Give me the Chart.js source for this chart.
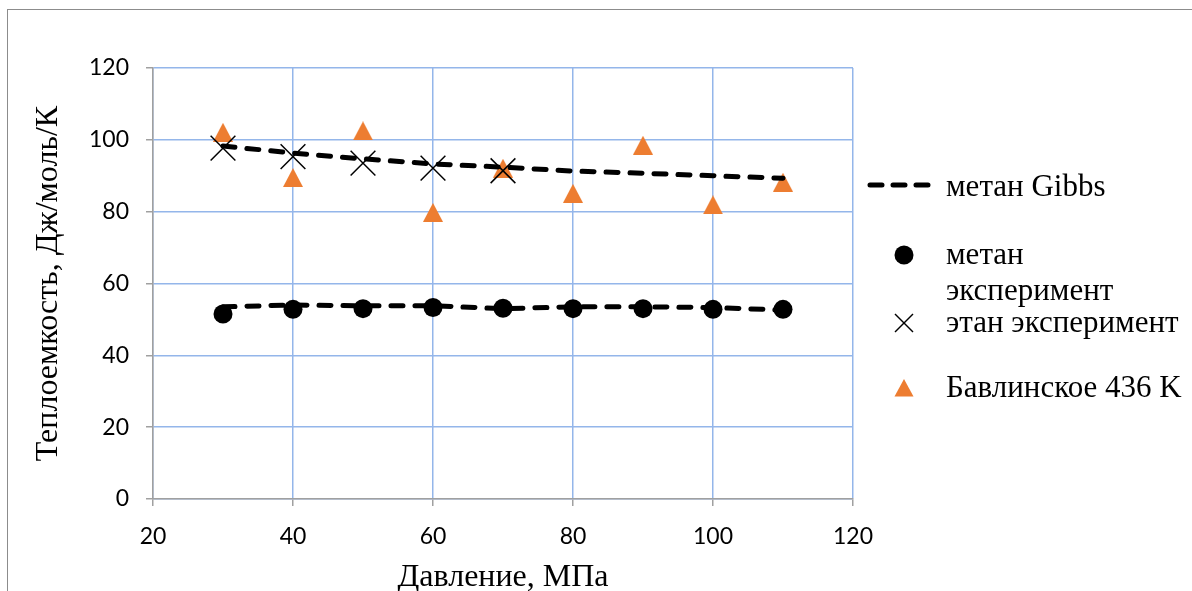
<!DOCTYPE html>
<html lang="ru">
<head>
<meta charset="utf-8">
<title>Теплоемкость</title>
<script src="https://cdn.jsdelivr.net/npm/chart.js@4.4.0/dist/chart.umd.min.js"></script>
<style>
  html, body { margin: 0; padding: 0; background: #fff; }
  #wrap { position: relative; width: 1192px; height: 591px; overflow: hidden; }
  #frame { position: absolute; left: 7px; top: 9px; width: 1300px; height: 700px;
    border-top: 1.5px solid #8c8c8c; border-left: 1.5px solid #8c8c8c; }
  #chart { position: absolute; left: 0; top: 0; }
  .lg { position: absolute; font-family: "Liberation Serif", "Times New Roman", serif;
    font-size: 31px; line-height: 36px; color: #000; white-space: nowrap; }
  .mk { position: absolute; overflow: visible; }
</style>
</head>
<body>
<div id="wrap">
  <div id="frame"></div>
  <canvas id="chart" width="1192" height="591"></canvas>

  <svg class="mk" style="left:864px;top:177px" width="72" height="16">
    <line x1="6" y1="8" x2="66" y2="8" stroke="#000" stroke-width="5" stroke-dasharray="12 11" stroke-linecap="round"/>
  </svg>
  <div class="lg" style="left:946px;top:168px">метан Gibbs</div>

  <svg class="mk" style="left:894px;top:245px" width="20" height="20">
    <circle cx="10" cy="10" r="9.5" fill="#000"/>
  </svg>
  <div class="lg" style="left:946px;top:236px">метан</div>
  <div class="lg" style="left:946px;top:272px">эксперимент</div>

  <svg class="mk" style="left:894px;top:313px" width="20" height="20">
    <line x1="1" y1="1" x2="19" y2="19" stroke="#000" stroke-width="1.5"/>
    <line x1="19" y1="1" x2="1" y2="19" stroke="#000" stroke-width="1.5"/>
  </svg>
  <div class="lg" style="left:946px;top:304px">этан эксперимент</div>

  <svg class="mk" style="left:894px;top:378px" width="20" height="20">
    <polygon points="10,1 19.5,18.5 0.5,18.5" fill="#ed7d31"/>
  </svg>
  <div class="lg" style="left:946px;top:369px">Бавлинское 436 K</div>
</div>

<script>
// давление, МПа
const pressure = [30, 40, 50, 60, 70, 80, 90, 100, 110]
const ethanePressure = [30, 40, 50, 60, 70]

// теплоемкость, Дж/моль/К
const methaneGibbs = [53.5, 54.0, 53.8, 53.8, 53.0, 53.5, 53.5, 53.3, 52.6]
const ethaneGibbs = [98.3, 96.3, 94.7, 93.3, 92.4, 91.3, 90.7, 90.0, 89.3]
const methaneExp = [51.5, 52.8, 53.0, 53.3, 53.1, 53.0, 53.0, 52.8, 52.8]
const ethaneExp = [97.7, 95.3, 93.5, 92.1, 91.4]
const bavlinskoe = [102.1, 89.5, 102.5, 79.8, 92.1, 85.1, 98.5, 81.9, 88.2]

const xTicks = [20, 40, 60, 80, 100, 120]
const yTicks = [0, 20, 40, 60, 80, 100, 120]

const toPoints = (xs, ys) => ys.map((y, i) => ({ x: xs[i], y }))

// excel-like triangle marker, centred on its bounding box
function triangleMarker (w, h, color) {
  const c = document.createElement('canvas')
  c.width = w
  c.height = h
  const g = c.getContext('2d')
  g.fillStyle = color
  g.beginPath()
  g.moveTo(w / 2, 0)
  g.lineTo(w, h)
  g.lineTo(0, h)
  g.closePath()
  g.fill()
  return c
}

const gridBlue = '#94b6ea'
const axisGrey = '#a0a0a0'
const tickFont = { family: 'Lato', size: 23 }
const titleFont = { family: 'Liberation Serif', size: 32 }

const dashed = {
  showLine: true,
  pointRadius: 0,
  borderColor: '#000',
  backgroundColor: '#000',
  borderWidth: 5,
  borderDash: [12, 12],
  borderCapStyle: 'round',
}

new Chart(document.getElementById('chart'), {
  type: 'scatter',
  data: {
    datasets: [
      Object.assign({ label: 'метан Gibbs', data: toPoints(pressure, methaneGibbs) }, dashed),
      Object.assign({ label: 'этан Gibbs', data: toPoints(pressure, ethaneGibbs) }, dashed),
      {
        label: 'метан эксперимент',
        data: toPoints(pressure, methaneExp),
        pointStyle: 'circle',
        pointRadius: 9.5,
        backgroundColor: '#000',
        borderColor: '#000',
        borderWidth: 0,
      },
      {
        label: 'этан эксперимент',
        data: toPoints(ethanePressure, ethaneExp),
        pointStyle: 'crossRot',
        pointRadius: 17.5,
        borderColor: '#000',
        borderWidth: 1.5,
      },
      {
        label: 'Бавлинское 436 K',
        data: toPoints(pressure, bavlinskoe),
        pointStyle: triangleMarker(20, 19, '#ed7d31'),
        pointRadius: 10,
      },
    ],
  },
  options: {
    responsive: false,
    animation: false,
    layout: { padding: { left: 0, top: 68, right: 339, bottom: 0 } },
    plugins: {
      legend: { display: false },
      tooltip: { enabled: false },
    },
    scales: {
      x: {
        type: 'linear',
        min: xTicks[0],
        max: xTicks[xTicks.length - 1],
        afterBuildTicks: (s) => { s.ticks = xTicks.map(v => ({ value: v })) },
        afterFit: (s) => { s.height = 92 },
        ticks: { font: tickFont, color: '#000', padding: 17 },
        grid: { color: gridBlue, lineWidth: 1.5, tickColor: axisGrey, tickWidth: 1.5, tickLength: 7 },
        border: { color: axisGrey, width: 1.5 },
        title: { display: true, text: 'Давление, МПа', font: titleFont, color: '#000', padding: { top: 0, bottom: -6 } },
      },
      y: {
        min: yTicks[0],
        max: yTicks[yTicks.length - 1],
        afterBuildTicks: (s) => { s.ticks = yTicks.map(v => ({ value: v })) },
        afterFit: (s) => { s.width = 153 },
        ticks: { font: tickFont, color: '#000', padding: 17 },
        grid: { color: gridBlue, lineWidth: 1.5, tickColor: axisGrey, tickWidth: 1.5, tickLength: 7 },
        border: { color: axisGrey, width: 1.5 },
        title: { display: true, text: 'Теплоемкость, Дж/моль/К', font: titleFont, color: '#000', padding: { top: 29, bottom: 0 } },
      },
    },
  },
})
</script>
</body>
</html>
